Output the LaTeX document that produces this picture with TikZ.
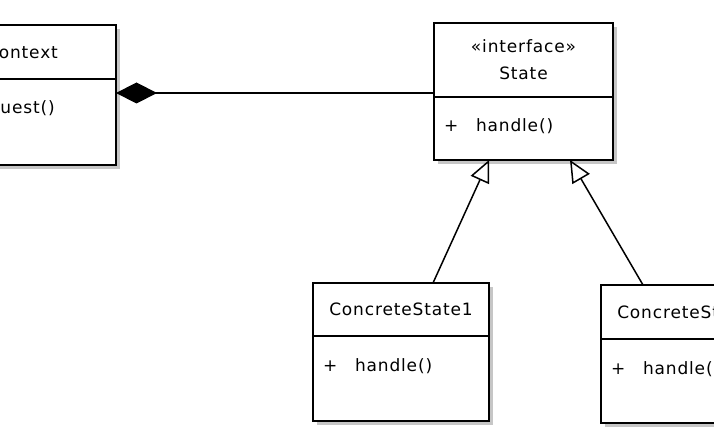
\documentclass[tikz,border=0pt]{standalone}
\usepackage{fontspec}
\setmainfont{DejaVu Sans}[LetterSpace=5]
\usetikzlibrary{arrows.meta,shadows}

\begin{document}
\begin{tikzpicture}[x=1pt, y=-1pt, line width=1.6pt,
	every node/.style={font=\fontsize{17}{27}\selectfont, inner sep=0pt, outer sep=0pt},
	umlpart/.style={draw, fill=white, anchor=north west, align=center,
		drop shadow={shadow xshift=4pt, shadow yshift=-4pt, fill=gray!45, opacity=1}},
	member/.style={anchor=base west},
	composite/.style={line width=1.5pt, {Diamond[length=41pt, width=21pt]}-},
	realize/.style={line width=1.5pt, -{Triangle[length=22pt, width=20pt, fill=white]}}]
	\useasboundingbox[fill=white] (0,0) rectangle (714,446);
	\clip (0,0) rectangle (714,446);
	% context
	\node[umlpart, minimum width=188pt, minimum height=54pt] (ctx) at (-72,25) {Context};
	\node[umlpart, minimum width=188pt, minimum height=86pt] (ctxb) at (ctx.south west) {};
	\node[member] (opctx) at ([xshift=42pt, yshift=-35pt]ctx.south west) {request()};
	% state interface
	\node[umlpart, minimum width=179pt, minimum height=74pt] (state) at (434,23) {«interface»\\State};
	\node[umlpart, minimum width=179pt, minimum height=63pt] (stateb) at (state.south west) {};
	% concrete states
	\node[umlpart, minimum width=176pt, minimum height=53pt] (csa) at (313,283) {ConcreteState1};
	\node[umlpart, minimum width=176pt, minimum height=85pt] (csab) at (csa.south west) {};
	\node[umlpart, minimum width=176pt, minimum height=54pt] (csb) at (601,285) {ConcreteState2};
	\node[umlpart, minimum width=176pt, minimum height=84pt] (csbb) at (csb.south west) {};
	\foreach \n in {state,csa,csb} {
		\node[member] (plus\n) at ([xshift=10pt, yshift=-35pt]\n.south west) {+};
		\node[member] (op\n) at ([xshift=42pt, yshift=-35pt]\n.south west) {handle()};
	}
	% connectors
	\coordinate (agg) at ([yshift=-14pt]ctxb.north east);
	\draw[composite] (agg) -- (agg -| state.west);
	\draw[realize] ([xshift=120pt]csa.north west) -- ([xshift=55pt]stateb.south west);
	\draw[realize] ([xshift=42pt]csb.north west) -- ([xshift=136pt]stateb.south west);
\end{tikzpicture}
\end{document}
